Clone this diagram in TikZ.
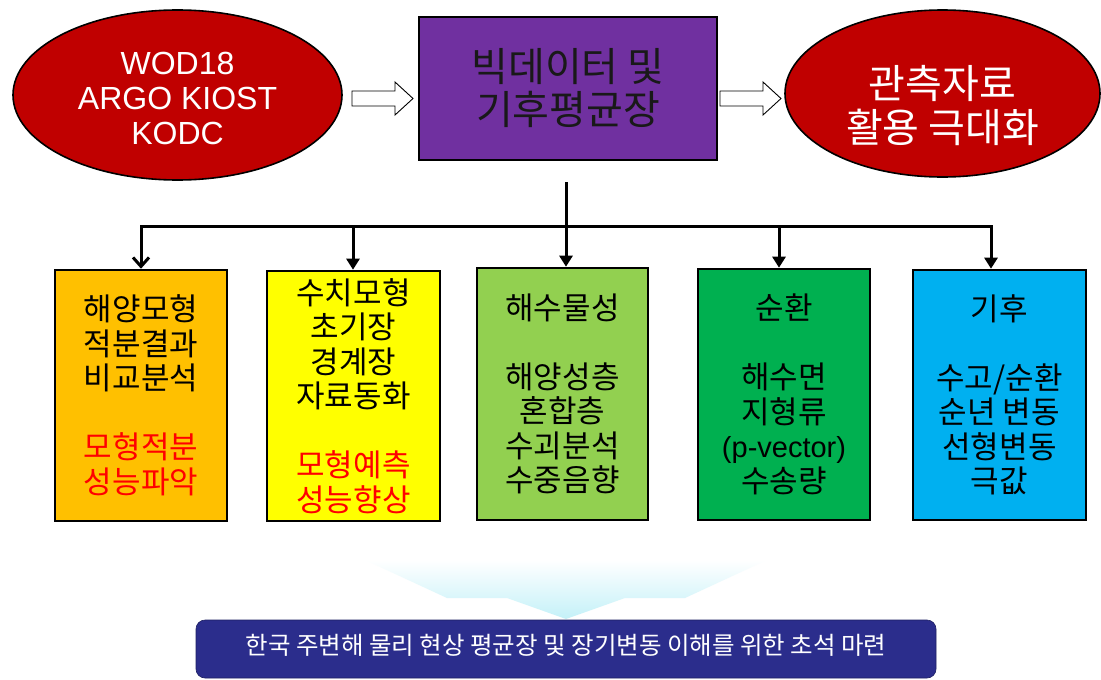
\documentclass[tikz,border=0pt]{standalone}
\usepackage{fontspec}
\setmainfont{Liberation Sans}
\newfontfamily\krfont{Noto Sans CJK KR}
\usetikzlibrary{shapes.geometric,arrows.meta}
\definecolor{ovred}{HTML}{C00000}
\definecolor{bdpurple}{HTML}{7030A0}
\definecolor{bxorange}{HTML}{FFC000}
\definecolor{bxyellow}{HTML}{FFFF00}
\definecolor{bxlgreen}{HTML}{92D050}
\definecolor{bxgreen}{HTML}{00B050}
\definecolor{bxcyan}{HTML}{00B0F0}
\definecolor{navybox}{HTML}{2B2D8C}
\definecolor{txtred}{HTML}{FF0000}
\definecolor{fadecyan}{HTML}{C4F1F8}
\tikzset{
  oval/.style={ellipse, draw=black, line width=1.6pt, fill=ovred, text=white, inner sep=0pt, align=center},
  catbox/.style={rectangle, draw=black, line width=2.6pt, inner sep=0pt, align=center,
     font=\krfont\fontsize{31}{34.5}\selectfont},
  conn/.style={draw=black, line width=3pt},
  tiparrow/.style={conn, -{Triangle[length=11pt,width=13pt]}},
  barbarrow/.style={conn, -{Straight Barb[length=9pt,width=16pt,line width=3pt]}},
  hollow/.style={draw=black, line width=0.9pt, fill=white},
}
\begin{document}
\begin{tikzpicture}[x=1pt,y=-1pt]
\useasboundingbox[fill=white] (0,0) rectangle (1101,680);

% top row
\node[oval, minimum width=329pt, minimum height=170pt, font=\fontsize{32}{35}\selectfont]
  (src) at (177.5,95) {\rule{0pt}{30pt}WOD18\\ARGO KIOST\\KODC};
\node[rectangle, draw=black, line width=1.6pt, fill=bdpurple, inner sep=0pt,
  minimum width=298pt, minimum height=143pt, align=center,
  font=\krfont\fontsize{40}{43}\selectfont, text=black!90]
  (hub) at (568,88.5) {빅데이터 및\\기후평균장};
\node[oval, minimum width=315pt, minimum height=167pt, font=\krfont\fontsize{40}{44}\selectfont]
  (out) at (942.5,93.5) {\rule{0pt}{58pt}관측자료\\활용 극대화};

% hollow block arrows
\draw[hollow] (352,91) -- (395,91) -- (395,82) -- (413,98.5) -- (395,115) -- (395,106) -- (352,106) -- cycle;
\draw[hollow] (720,91) -- (763,91) -- (763,82) -- (781,98.5) -- (763,115) -- (763,106) -- (720,106) -- cycle;

% category boxes
\node[catbox, fill=bxorange, minimum width=172pt, minimum height=251pt] (b1) at (141,395.5)
  {해양모형\\적분결과\\비교분석\\[34.5pt]\textcolor{txtred}{모형적분}\\\textcolor{txtred}{성능파악}};
\node[catbox, fill=bxyellow, minimum width=173pt, minimum height=250pt] (b2) at (353.5,396)
  {수치모형\\초기장\\경계장\\자료동화\\[34.5pt]\textcolor{txtred}{모형예측}\\\textcolor{txtred}{성능향상}};
\node[catbox, fill=bxlgreen, minimum width=171pt, minimum height=252pt] (b3) at (562.5,394)
  {해수물성\\[34.5pt]해양성층\\혼합층\\수괴분석\\수중음향};
\node[catbox, fill=bxgreen, minimum width=172pt, minimum height=251pt] (b4) at (784,394.5)
  {순환\\[34.5pt]해수면\\지형류\\{\fontspec{Liberation Sans}\fontsize{29}{34.5}\selectfont (p-vector)}\\수송량};
\node[catbox, fill=bxcyan, minimum width=173pt, minimum height=250pt] (b5) at (999.5,395)
  {기후\\[34.5pt]수고/순환\\순년 변동\\선형변동\\극값};

% tree connectors
\coordinate (tstart) at (566,182);
\coordinate (tj) at (566,226);
\coordinate (h1) at (141,226);
\coordinate (h2) at (353,226);
\coordinate (h4) at (779,226);
\coordinate (h5) at (991,226);
\draw[conn] (tstart) -- (tj);
\draw[conn, line cap=rect] (h1) -- (h5);
\draw[barbarrow] (h1) -- (h1 |- b1.north);
\draw[tiparrow] (h2) -- (h2 |- b2.north);
\draw[tiparrow] (tj) -- (tj |- b3.north);
\draw[tiparrow] (h4) -- (h4 |- b4.north);
\draw[tiparrow] (h5) -- (h5 |- b5.north);

% faded down arrow
\shade[top color=white, bottom color=fadecyan]
  (365,560) -- (767,560) -- (685,598) -- (625,598) -- (566,619) -- (507,598) -- (447,598) -- cycle;

% goal box
\node[rectangle, rounded corners=9pt, fill=navybox, draw=navybox!70!black, line width=0.6pt,
  minimum width=740pt, minimum height=58pt, inner sep=0pt, text height=16pt, text depth=6pt,
  text=white, font=\krfont\fontsize{24.5}{28}\selectfont]
  (goal) at (566,649) {한국 주변해 물리 현상 평균장 및 장기변동 이해를 위한 초석 마련};
\end{tikzpicture}
\end{document}
